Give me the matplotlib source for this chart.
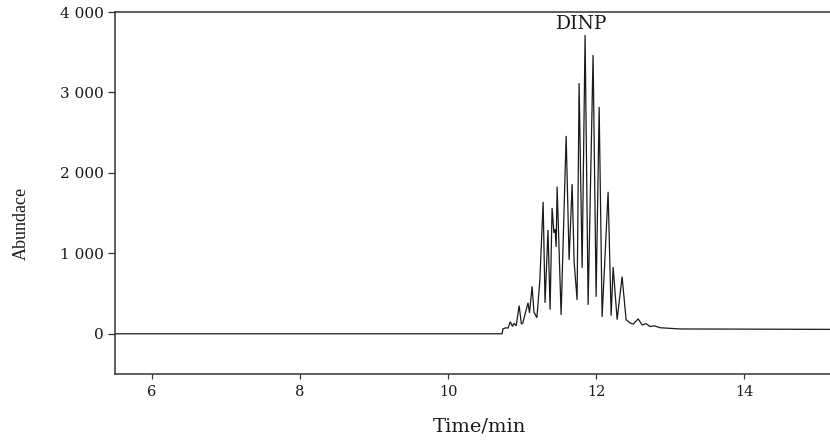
#!/usr/bin/env python3
# -*- coding: utf-8 -*-
"""
GC-MS chromatogram of DINP (total ion abundance vs retention time).
Saves the figure as out.png (830 x 440 px).
"""

import matplotlib
matplotlib.use("Agg")
import matplotlib.pyplot as plt
from matplotlib.ticker import FuncFormatter

# ============== DATA ============== #
# retention time, min (vertices of the trace: baseline, peak tops, valleys)
TIME = [
    5.50, 10.73, 10.74, 10.78, 10.81, 10.84, 10.87, 10.89, 10.92, 10.96,
    10.99, 11.01, 11.05, 11.08, 11.10, 11.135, 11.16, 11.20, 11.24, 11.284,
    11.31, 11.35, 11.378, 11.405, 11.43, 11.446, 11.46, 11.473, 11.527,
    11.595, 11.635, 11.676, 11.703, 11.743, 11.77, 11.811, 11.851, 11.892,
    11.959, 12.00, 12.041, 12.081, 12.162, 12.203, 12.23, 12.284, 12.351,
    12.405, 12.459, 12.50, 12.568, 12.622, 12.676, 12.73, 12.784, 12.865,
    13.135, 15.16,
]
# abundance (counts)
ABUNDANCE = [
    0, 0, 60, 75, 70, 150, 90, 130, 100, 350,
    120, 135, 280, 385, 260, 590, 270, 200, 670, 1640,
    385, 1290, 300, 1565, 1255, 1300, 1080, 1830, 235,
    2460, 920, 1860, 890, 420, 3115, 820, 3715, 360,
    3465, 460, 2820, 210, 1765, 225, 830, 175, 710,
    175, 135, 120, 185, 110, 125, 90, 100, 75,
    60, 55,
]

PEAK_LABEL = "DINP"
PEAK_LABEL_POS = (11.81, 3740)     # time, abundance of label bottom

X_TICKS = [6, 8, 10, 12, 14]
Y_TICKS = [0, 1000, 2000, 3000, 4000]
X_LIM = (5.5, 15.16)
Y_LIM = (-500, 4000)
# ========================================================== #

SERIF = ["DejaVu Serif"]
INK = "#1a1a1a"
SPINE = "#333333"


def thousands_space(value, _pos):
    """Format 4000 as '4 000'."""
    return f"{int(value):,}".replace(",", " ")


def main() -> None:
    fig = plt.figure(figsize=(8.3, 4.4), dpi=100)
    ax = fig.add_axes([0.1386, 0.15, 0.8614, 0.8227])

    # chromatogram trace
    ax.plot(TIME, ABUNDANCE, color=INK, linewidth=0.9, solid_joinstyle="miter")

    # peak label
    ax.text(PEAK_LABEL_POS[0], PEAK_LABEL_POS[1], PEAK_LABEL,
            family=SERIF, fontsize=13.5, color=INK,
            ha="center", va="bottom")

    ax.set_xlim(*X_LIM)
    ax.set_ylim(*Y_LIM)
    ax.set_xticks(X_TICKS)
    ax.set_yticks(Y_TICKS)
    ax.yaxis.set_major_formatter(FuncFormatter(thousands_space))

    # spines: left, top, bottom only
    ax.spines["right"].set_visible(False)
    for side in ("left", "top", "bottom"):
        ax.spines[side].set_color(SPINE)
        ax.spines[side].set_linewidth(1.1)

    ax.tick_params(axis="y", direction="out", length=5, width=0.9,
                   color=SPINE, pad=3, labelsize=11, labelcolor=INK)
    ax.tick_params(axis="x", direction="out", length=3.5, width=0.9,
                   color=SPINE, pad=4.5, labelsize=10.5, labelcolor=INK)
    for lab in ax.get_xticklabels() + ax.get_yticklabels():
        lab.set_family(SERIF)

    ax.set_xlabel("Time/min", family=SERIF, fontsize=14, color=INK)
    ax.xaxis.set_label_coords(0.51, -0.12)
    ax.set_ylabel("Abundace", family=["Liberation Serif"], fontsize=13,
                  color=INK)
    ax.yaxis.set_label_coords(-0.119, 0.417)

    fig.savefig("out.png", dpi=100)


if __name__ == "__main__":
    main()
